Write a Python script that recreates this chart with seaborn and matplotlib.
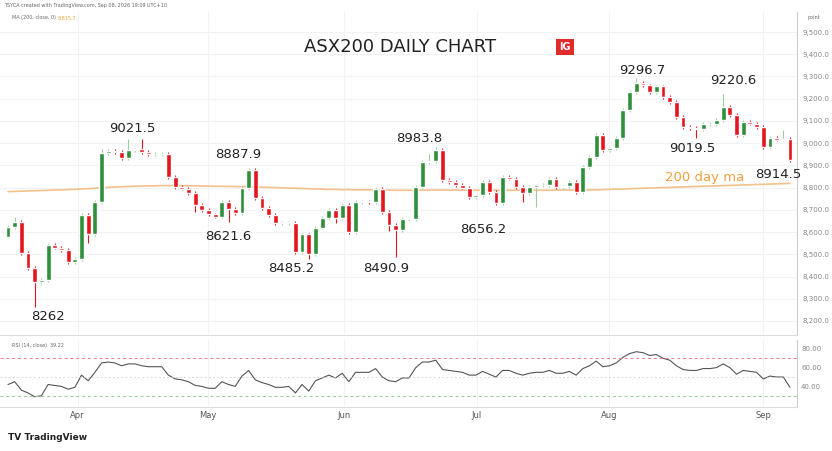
import numpy as np
import pandas as pd
import seaborn as sns
import matplotlib
matplotlib.use("Agg")
import matplotlib.pyplot as plt

closes = [8623,8645,8505,8438,8375,8385,8542,8530,8520,8465,8480,8677,8590,8735,8955,8965,8960,8933,8968,8972,
          8960,8950,8950,8952,8848,8803,8795,8775,8722,8700,8680,8670,8735,8705,8685,8798,8880,8753,8709,8678,
          8641,8641,8643,8510,8590,8500,8620,8663,8700,8663,8722,8600,8735,8737,8735,8794,8690,8632,8610,8659,
          8660,8803,8915,8920,8969,8834,8826,8812,8800,8758,8765,8826,8780,8730,8848,8840,8803,8775,8803,8810,
          8812,8840,8803,8805,8826,8780,8893,8938,9037,8969,8976,9023,9149,9230,9270,9260,9230,9255,9208,9185,
          9118,9073,9067,9063,9085,9087,9104,9163,9127,9037,9095,9088,9073,8983,9023,9016,9018,8924]
first_open = 8580
wick_hi = {1: 25, 14: 20, 18: 50, 20: 45, 36: 10, 43: 5, 63: 30, 64: 15, 94: 25, 107: 58, 116: 40}
wick_lo = {4: 113, 12: 40, 28: 30, 33: 60, 45: 20, 49: 20, 57: 25, 58: 120, 77: 40, 79: 90, 103: 40, 117: 10}
ma200 = [8782,8783,8784,8785,8786,8787,8788,8789,8790,8791, 8792,8794,8795,8797,8799,8801,8803,8804,8805,8806,
         8807,8808,8808,8809,8809,8809,8809,8808,8808,8807, 8807,8806,8806,8805,8805,8804,8804,8803,8802,8801,
         8800,8799,8798,8797,8796,8795,8794,8793,8792,8792, 8791,8791,8790,8790,8790,8790,8789,8789,8788,8788,
         8788,8788,8788,8789,8789,8789,8789,8789,8789,8788, 8788,8788,8788,8788,8788,8788,8788,8788,8788,8788,
         8788,8788,8789,8789,8789,8789,8789,8790,8790,8791, 8792,8793,8794,8795,8796,8797,8798,8799,8800,8801,
         8802,8803,8804,8805,8806,8807,8808,8809,8810,8811, 8812,8813,8814,8815,8816,8817,8818,8819]
rsi = [42,45,36,33,29,30,42,41,40,37,39,52,46,55,65,66,65,62,64,64,62,61,61,61,52,48,47,45,41,40,38,38,45,42,40,
       51,57,47,44,42,39,39,40,33,42,35,46,49,52,49,54,45,55,55,55,59,50,46,45,49,49,60,66,66,68,
       58,57,56,55,52,52,56,53,50,57,57,54,52,54,55,55,57,54,54,56,52,59,62,67,61,62,65,71,75,77,76,73,74,70,68,
       62,58,57,57,59,59,60,64,60,53,57,56,55,48,51,50,50,39]
month_labels = ["Apr", "May", "Jun", "Jul", "Aug", "Sep"]
month_pos = [10.4, 29.9, 50.2, 70.1, 89.9, 113.0]
price_ticks = list(range(8200, 9501, 100))
rsi_ticks = [40, 60, 80]

n = len(closes)
idx = np.arange(n)
opens = [first_open] + closes[:-1]
highs = [max(o, c) + wick_hi.get(i, 8) for i, (o, c) in enumerate(zip(opens, closes))]
lows = [min(o, c) - wick_lo.get(i, 8) for i, (o, c) in enumerate(zip(opens, closes))]
df = pd.DataFrame({"i": idx, "o": opens, "c": closes, "h": highs, "l": lows, "ma": ma200, "rsi": rsi})

sns.set_style("white")
W, H = 832, 451
fig = plt.figure(figsize=(W/100, H/100), dpi=100)
px = (790 - 8) / (n - 1)
xl = (-8/px, (797 - 8)/px)
ax = fig.add_axes([0, (H-335)/H, 797/W, (335-12)/H])
ax2 = fig.add_axes([0, (H-407)/H, 797/W, (407-340)/H])

GREEN, RED = "#2f8f3a", "#e5151d"
cols = [GREEN if c >= o else RED for o, c in zip(opens, closes)]
ax.vlines(df.i, df.l, df.h, colors=[c if c == RED else "#9ccc9f" for c in cols], lw=0.8, zorder=2)
ax.bar(df.i, np.maximum(np.abs(df.c - df.o), 3), bottom=np.minimum(df.o, df.c), width=0.72, color=cols, zorder=3)
sns.lineplot(data=df, x="i", y="ma", ax=ax, color="#f5c08a", lw=1.2, zorder=1)
ax.set_xlim(*xl)
y_top = 9500 + (32 - 12) / 0.2223
y_bot = 9500 - (335 - 32) / 0.2223
ax.set_ylim(y_bot, y_top)
ax.set_yticks(price_ticks)
ax.set_yticklabels([f"{t:,.1f}" for t in price_ticks], fontsize=5, color="#888")
ax.yaxis.tick_right()
ax.set_xticks(month_pos)
ax.set_xticklabels([])
ax.grid(True, color="#f0f2f6", lw=0.8)
ax.tick_params(length=0, pad=4)
ax.set_xlabel(""); ax.set_ylabel("")
for s in ["top", "left"]:
    ax.spines[s].set_visible(False)
ax.spines["right"].set_color("#ccc"); ax.spines["bottom"].set_color("#ddd")

sns.lineplot(data=df, x="i", y="rsi", ax=ax2, color="#555", lw=0.8)
ax2.axhline(70, color="#f08080", ls=(0, (3, 3)), lw=0.7)
ax2.axhline(30, color="#8fcf8f", ls=(0, (3, 3)), lw=0.7)
ax2.axhline(50, color="#ccc", ls=(0, (3, 3)), lw=0.5)
ax2.set_xlim(*xl)
ax2.set_ylim(20 - 2, 80 + 9.5)
ax2.set_yticks(rsi_ticks)
ax2.set_yticklabels([f"{t:.2f}" for t in rsi_ticks], fontsize=5, color="#888")
ax2.yaxis.tick_right()
ax2.set_xticks(month_pos)
ax2.set_xticklabels(month_labels, fontsize=6, color="#555")
ax2.grid(True, axis="x", color="#f0f2f6", lw=0.8)
ax2.tick_params(length=0, pad=3)
ax2.set_xlabel(""); ax2.set_ylabel("")
for s in ["top", "left"]:
    ax2.spines[s].set_visible(False)
ax2.spines["right"].set_color("#ccc"); ax2.spines["bottom"].set_color("#ddd")

def t(x, y, s, **kw):
    fig.text(x/W, 1 - y/H, s, **kw)

t(400, 47, "ASX200 DAILY CHART", fontsize=13, ha="center", va="center", color="#222")
t(565, 47, "IG", fontsize=7, ha="center", va="center", color="white", weight="bold",
  bbox=dict(boxstyle="square,pad=0.35", fc="#e02b2b", ec="none"))
t(4, 6, "TSYCA created with TradingView.com, Sep 08, 2026 19:09 UTC+10", fontsize=3.5, va="center", color="#666")
t(12, 18, "MA (200, close, 0)", fontsize=3.5, va="center", color="#666")
t(58, 18, "8,815.7", fontsize=3.5, va="center", color="#f0a040")
t(12, 345, "RSI (14, close)  39.22", fontsize=3.5, va="center", color="#666")
t(808, 18, "point", fontsize=3.5, va="center", color="#666")
t(8, 437, "TV TradingView", fontsize=6.5, va="center", color="#222", weight="bold")
for x, y, s in [(48, 316, "8262"), (132, 129, "9021.5"), (238, 155, "8887.9"), (228, 236, "8621.6"),
                (291, 268, "8485.2"), (386, 268, "8490.9"), (419, 139, "8983.8"), (483, 229, "8656.2"),
                (642, 70, "9296.7"), (733, 80, "9220.6"), (692, 149, "9019.5"), (778, 175, "8914.5")]:
    t(x, y, s, fontsize=9.5, ha="center", va="center", color="#222")
t(705, 177, "200 day ma", fontsize=9.5, ha="center", va="center", color="#f0a040")

fig.savefig("out.png", dpi=100, facecolor="white")
